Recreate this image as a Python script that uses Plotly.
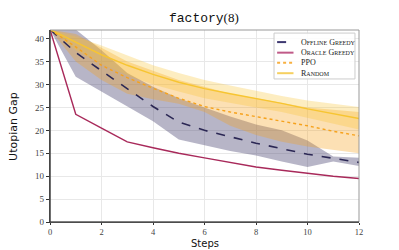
import plotly.graph_objects as go

steps = list(range(13))

offline_mean  = [42, 37, 33, 29, 25.2, 21.8, 20.0, 18.6, 17.2, 16.0, 14.8, 13.9, 13.0]
offline_upper = [42, 42, 37.5, 32.5, 29.5, 27, 25, 23, 21.3, 20.0, 17.8, 14.3, 14.0]
offline_lower = [42, 31.7, 28.4, 25.2, 22, 18, 16.7, 15.5, 14.5, 13.2, 12.0, 13.2, 12.2]

oracle_mean = [42, 23.5, 20.5, 17.5, 16.2, 15.0, 14.0, 13.0, 12.0, 11.3, 10.6, 10.0, 9.5]

ppo_mean  = [42, 38.2, 34.2, 31.5, 29.2, 27, 25.2, 24, 23, 22, 21, 19.8, 18.8]
ppo_upper = [42, 41, 38, 35, 33, 31, 29.5, 28, 27, 26, 25, 24.5, 24]
ppo_lower = [42, 35, 31, 28, 26.8, 25.8, 24, 21, 19, 17.5, 16.5, 15.7, 15]

random_mean  = [42, 39.3, 36.5, 34.2, 32.2, 30.5, 29.1, 28, 27, 25.9, 24.7, 23.6, 22.6]
random_upper = [42, 40.5, 38.5, 36.3, 34.2, 32.5, 31, 29.8, 28.6, 27.5, 26.5, 25.8, 25.1]
random_lower = [42, 37.5, 34.5, 32, 30, 28.5, 27, 26, 25, 24, 22.8, 21.5, 20.2]

series_names = ["Offline Greedy", "Oracle Greedy", "PPO", "Random"]
x_ticks = [0, 2, 4, 6, 8, 10, 12]
y_ticks = [0, 5, 10, 15, 20, 25, 30, 35, 40]

NAVY = "#2b2754"
CRIMSON = "#a8295a"
ORANGE = "#f6a21c"
YELLOW = "#f7c531"
colors = [NAVY, CRIMSON, ORANGE, YELLOW]
dashes = ["dash", "solid", "dot", "solid"]

def sc(text):
    out = []
    for w in text.split(" "):
        if len(w) > 1 and not w.isupper():
            out.append(w[0] + "<span style='font-size:6px'>" + w[1:].upper() + "</span>")
        else:
            out.append(w)
    return " ".join(out)

fig = go.Figure()

def band(up, lo, color):
    fig.add_trace(go.Scatter(x=steps + steps[::-1], y=up + lo[::-1], fill="toself",
                             fillcolor=color, line=dict(width=0), mode="lines",
                             hoverinfo="skip", showlegend=False))

band(offline_upper, offline_lower, "rgba(75,70,115,0.4)")
band(ppo_upper, ppo_lower, "rgba(246,162,28,0.33)")
band(random_upper, random_lower, "rgba(247,197,49,0.3)")

means = [offline_mean, oracle_mean, ppo_mean, random_mean]
widths = [1.6, 1.4, 1.4, 1.4]
for name, ys, c, d, w in zip(series_names, means, colors, dashes, widths):
    fig.add_trace(go.Scatter(x=steps, y=ys, mode="lines", name=name,
                             line=dict(color=c, width=w, dash=d), showlegend=False))

# legend (drawn manually to match compact matplotlib legend)
leg_x0, leg_x1, leg_y0, leg_y1 = 0.725, 0.987, 0.745, 0.984
fig.add_shape(type="rect", xref="paper", yref="paper", x0=leg_x0, x1=leg_x1, y0=leg_y0, y1=leg_y1,
              line=dict(color="#cccccc", width=1), fillcolor="rgba(255,255,255,0.85)", layer="above")
row_y = [0.937, 0.882, 0.829, 0.775]
leg_colors = ["#3d3870", "#c05a88", "#f8b040", "#f6d060"]
for name, c, d, ry in zip(series_names, leg_colors, dashes, row_y):
    fig.add_shape(type="line", xref="paper", yref="paper", x0=0.735, x1=0.788, y0=ry, y1=ry,
                  line=dict(color=c, width=2, dash=d), layer="above")
    fig.add_annotation(xref="paper", yref="paper", x=0.806, y=ry, xanchor="left", yanchor="middle",
                       text=sc(name), showarrow=False,
                       font=dict(family="Liberation Serif", size=8, color="#222"))

# axis titles
fig.add_annotation(xref="paper", yref="paper", x=0.5, y=-0.112, xanchor="center", yanchor="middle",
                   text="Steps", showarrow=False, borderpad=0,
                   font=dict(family="DejaVu Sans", size=10, color="#111"))
fig.add_annotation(xref="paper", yref="paper", x=-0.12, y=0.5, xanchor="center", yanchor="middle",
                   text="Utopian Gap", textangle=-90, showarrow=False,
                   font=dict(family="DejaVu Sans", size=11, color="#111"))

# page body has an 8px margin, so the figure is sized/offset to fit the 399x250 window
fig.update_layout(
    width=391, height=242,
    margin=dict(l=42, r=40, t=22, b=28),
    paper_bgcolor="white", plot_bgcolor="white",
    title=dict(text="<span style='font-family:Liberation Mono'>factory</span>(8)",
               x=0.501, xanchor="center", y=0.962, yanchor="middle",
               font=dict(family="Liberation Serif", size=13, color="#111")),
    showlegend=False,
)
fig.update_xaxes(range=[0, 12], tickvals=x_ticks, ticks="outside", ticklen=2, tickcolor="#333",
                 showgrid=True, gridcolor="#e8e8e8", gridwidth=1, zeroline=False, automargin=False,
                 showline=True, linecolor="#333", linewidth=1.2, mirror=False,
                 tickfont=dict(family="Liberation Serif", size=8.5, color="#444"))
fig.update_yaxes(range=[0, 41.9], tickvals=y_ticks, ticks="outside", ticklen=3, tickcolor="#333",
                 showgrid=True, gridcolor="#e8e8e8", gridwidth=1, zeroline=False, automargin=False,
                 showline=True, linecolor="#333", linewidth=1.2,
                 tickfont=dict(family="Liberation Serif", size=9, color="#444"))
fig.add_shape(type="rect", xref="paper", yref="paper", x0=0, y0=0, x1=1, y1=1,
              line=dict(color="#999", width=1), layer="above")
fig.add_shape(type="line", xref="paper", yref="paper", x0=0, y0=0, x1=1, y1=0,
              line=dict(color="#333", width=1.2), layer="above")
fig.add_shape(type="line", xref="paper", yref="paper", x0=0, y0=0, x1=0, y1=1,
              line=dict(color="#333", width=1.2), layer="above")

fig.write_html("out.html")
